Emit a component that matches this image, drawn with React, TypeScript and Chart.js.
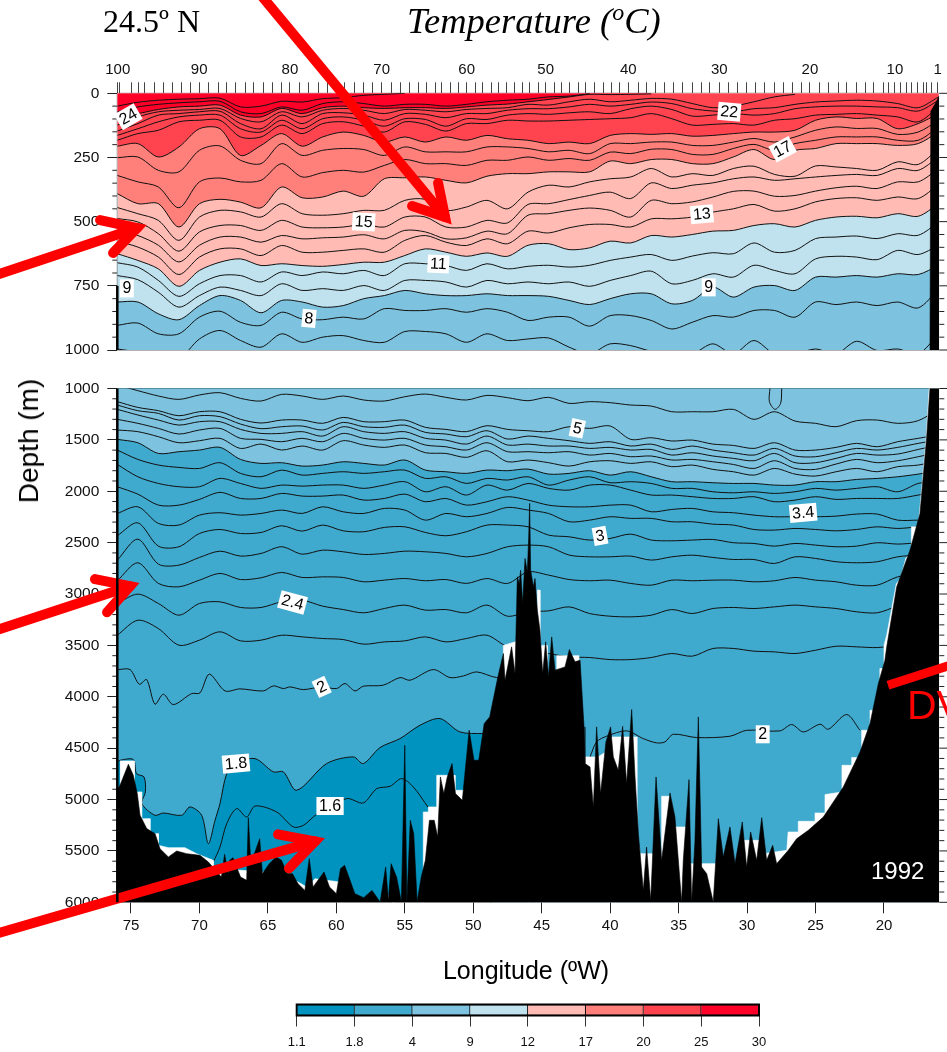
import React, { useEffect, useRef } from "react";
import { Chart, registerables } from "chart.js";

Chart.register(...registerables);

// Longitudes (degrees W) at which the isotherm depths were read
const LON_GRID = [76, 74.5, 73, 71.5, 70, 68.5, 67, 65.5, 64, 62.5, 61, 59.5, 58, 56.5, 55, 53.5, 52, 50.5, 49, 47.5, 46, 44.5, 43, 41.5, 40, 38.5, 37, 35.5, 34, 32.5, 31, 29.5, 28, 26.5, 25, 23.5, 22, 20.5, 19, 17.5, 16];

// Upper panel isotherms: depth in metres along LON_GRID
const T27 = [50, 35, 27, 23, 21, 19, 53, 50, 31, 34, 21, 17, 8, 4, 0];
const T26 = [72, 53, 43, 37, 33, 31, 72, 79, 53, 66, 40, 33, 40, 50, 43, 43, 50, 43, 33, 27, 23, 14, 11, 1];
const T25 = [89, 79, 63, 53, 50, 46, 85, 92, 59, 79, 56, 50, 56, 59, 56, 56, 59, 53, 46, 42, 33, 24, 14, 4, 5, 4, 2];
const T24 = [124, 92, 72, 66, 63, 59, 98, 111, 72, 92, 66, 59, 66, 79, 63, 66, 72, 63, 59, 56, 43, 46, 33, 23, 33, 27, 20, 23, 40, 56, 50, 33, 14, 4];
const T23 = [147, 118, 85, 79, 72, 70, 118, 138, 85, 118, 79, 76, 85, 105, 79, 82, 95, 79, 79, 66, 60, 60, 53, 43, 50, 43, 34, 40, 60, 69, 72, 60, 56, 43, 34, 30, 27, 30, 40, 56, 14];
const T22 = [164, 138, 111, 92, 85, 85, 138, 151, 105, 138, 99, 92, 105, 128, 99, 102, 128, 99, 102, 85, 79, 82, 76, 72, 79, 60, 50, 63, 89, 85, 79, 85, 79, 60, 53, 50, 50, 53, 56, 69, 27];
const T21 = [183, 157, 144, 111, 105, 105, 170, 170, 124, 157, 118, 111, 128, 151, 111, 121, 147, 118, 118, 105, 108, 108, 105, 102, 99, 95, 79, 99, 124, 121, 118, 124, 105, 99, 85, 82, 79, 85, 92, 111, 53];
const T20 = [206, 196, 248, 209, 138, 138, 242, 203, 157, 206, 170, 151, 164, 190, 170, 190, 170, 183, 164, 177, 183, 196, 190, 196, 164, 157, 160, 157, 167, 164, 157, 151, 151, 144, 105, 92, 98, 98, 138, 118, 79];
const T19 = [251, 248, 300, 306, 222, 205, 261, 274, 196, 242, 222, 215, 219, 242, 209, 228, 228, 228, 209, 209, 215, 228, 222, 235, 196, 196, 190, 190, 203, 203, 190, 176, 190, 170, 144, 131, 137, 137, 160, 151, 105];
const T18 = [320, 345, 365, 446, 345, 330, 345, 339, 274, 326, 309, 300, 307, 281, 258, 274, 274, 281, 261, 261, 248, 261, 254, 261, 229, 235, 218, 219, 238, 238, 215, 199, 222, 196, 183, 170, 170, 170, 183, 183, 131];
const T17 = [391, 430, 430, 521, 430, 413, 424, 446, 365, 407, 404, 381, 401, 333, 329, 326, 339, 349, 323, 313, 313, 306, 306, 306, 264, 274, 258, 258, 274, 274, 248, 219, 258, 222, 215, 196, 196, 196, 203, 196, 150];
const T16 = [445, 469, 495, 573, 482, 456, 462, 482, 430, 469, 475, 469, 456, 456, 417, 413, 456, 443, 417, 450, 385, 358, 365, 345, 333, 326, 293, 326, 313, 320, 293, 284, 316, 323, 283, 287, 293, 300, 267, 277, 215];
const T15 = [488, 501, 547, 615, 540, 515, 515, 534, 495, 521, 524, 521, 511, 521, 482, 482, 521, 521, 495, 505, 433, 430, 414, 398, 385, 410, 349, 371, 358, 349, 333, 326, 339, 333, 326, 320, 316, 320, 293, 300, 248];
const T14 = [534, 554, 592, 657, 592, 560, 560, 580, 554, 567, 563, 560, 551, 567, 534, 540, 567, 563, 537, 547, 475, 469, 456, 447, 456, 482, 417, 430, 423, 404, 382, 381, 401, 398, 381, 368, 362, 371, 345, 345, 294];
const T13 = [576, 599, 638, 706, 638, 606, 606, 632, 593, 619, 619, 612, 606, 619, 573, 554, 580, 593, 567, 586, 537, 544, 524, 511, 511, 521, 489, 489, 482, 463, 450, 433, 459, 450, 423, 410, 407, 417, 404, 410, 355];
const T12 = [625, 651, 684, 752, 690, 658, 645, 671, 664, 671, 674, 667, 658, 658, 632, 606, 619, 635, 622, 635, 592, 586, 609, 602, 576, 583, 554, 560, 550, 537, 534, 515, 508, 521, 495, 482, 479, 485, 469, 479, 430];
const T11 = [660, 677, 729, 791, 742, 710, 710, 735, 696, 710, 696, 703, 690, 710, 664, 664, 671, 690, 664, 684, 674, 670, 677, 670, 651, 638, 628, 651, 634, 621, 625, 583, 619, 612, 566, 560, 556, 566, 547, 553, 502];
const T10 = [710, 726, 775, 833, 788, 755, 768, 788, 742, 768, 761, 768, 749, 768, 729, 729, 735, 755, 729, 742, 735, 742, 735, 752, 729, 710, 693, 742, 729, 703, 716, 670, 690, 703, 645, 635, 638, 648, 612, 628, 592];
const T9 = [813, 813, 859, 882, 827, 788, 807, 855, 807, 813, 833, 827, 800, 788, 768, 781, 788, 788, 781, 788, 788, 791, 807, 823, 800, 781, 781, 820, 807, 755, 794, 755, 749, 768, 716, 716, 710, 716, 703, 706, 670];
const T8 = [904, 895, 937, 937, 872, 849, 892, 904, 853, 879, 882, 872, 879, 839, 846, 846, 839, 853, 839, 853, 885, 872, 872, 907, 866, 866, 885, 918, 892, 866, 872, 846, 846, 872, 813, 823, 813, 827, 813, 836, 762];
const T7 = [996, 1009, 1035, 1035, 957, 924, 963, 989, 937, 970, 950, 944, 963, 970, 928, 928, 937, 970, 937, 963, 957, 953, 989, 1015, 976, 983, 1005, 1015, 1015, 976, 1015, 963, 1015, 1015, 996, 1015, 966, 1002, 996, 1015, 937];

// Lower panel isotherms: depth in metres along LON_GRID
const B6 = [966, 1021, 1073, 1106, 1063, 1041, 1096, 1122, 1057, 1073, 1106, 1073, 1112, 1122, 1080, 1054, 1086, 1112, 1067, 1089, 1119, 1086, 1145, 1128, 1138, 1161, 1171, 1226, 1226, 1226, 1203, 1300, 1226, 1317, 1339, 1372, 1313, 1307, 1339, 1313, 1200];
const B5 = [1128, 1184, 1216, 1265, 1226, 1226, 1300, 1336, 1307, 1307, 1339, 1281, 1323, 1323, 1307, 1378, 1398, 1420, 1362, 1398, 1411, 1420, 1372, 1388, 1365, 1495, 1479, 1511, 1502, 1541, 1554, 1583, 1528, 1599, 1599, 1573, 1534, 1567, 1518, 1485, 1450];
const B48 = [1161, 1216, 1242, 1307, 1265, 1274, 1346, 1391, 1372, 1365, 1404, 1330, 1372, 1378, 1356, 1427, 1443, 1469, 1411, 1492, 1463, 1485, 1508, 1534, 1518, 1560, 1541, 1593, 1560, 1599, 1625, 1648, 1583, 1657, 1664, 1625, 1583, 1599, 1573, 1534, 1500];
const B46 = [1203, 1258, 1307, 1356, 1323, 1323, 1398, 1437, 1437, 1420, 1463, 1372, 1420, 1437, 1420, 1485, 1502, 1541, 1463, 1550, 1541, 1560, 1560, 1583, 1573, 1599, 1593, 1648, 1625, 1657, 1680, 1703, 1632, 1722, 1722, 1680, 1632, 1648, 1638, 1593, 1550];
const B44 = [1300, 1339, 1388, 1443, 1404, 1388, 1485, 1495, 1518, 1485, 1518, 1437, 1485, 1502, 1485, 1550, 1567, 1599, 1528, 1615, 1615, 1625, 1615, 1648, 1632, 1664, 1657, 1696, 1690, 1713, 1739, 1778, 1703, 1778, 1787, 1735, 1690, 1722, 1703, 1664, 1620];
const B42 = [1404, 1420, 1469, 1528, 1508, 1485, 1583, 1541, 1599, 1560, 1599, 1508, 1550, 1573, 1550, 1625, 1632, 1670, 1606, 1713, 1696, 1722, 1755, 1713, 1703, 1729, 1713, 1761, 1745, 1787, 1810, 1843, 1778, 1833, 1852, 1810, 1778, 1810, 1761, 1745, 1700];
const B4 = [1495, 1528, 1632, 1615, 1599, 1573, 1690, 1729, 1722, 1755, 1745, 1713, 1729, 1745, 1696, 1794, 1810, 1826, 1794, 1800, 1784, 1833, 1826, 1800, 1843, 1810, 1859, 1907, 1907, 1917, 1924, 1924, 1940, 1940, 1907, 1907, 1885, 1875, 1859, 1833, 1800];
const B38 = [1599, 1690, 1745, 1768, 1778, 1722, 1826, 1859, 1794, 1843, 1826, 1810, 1826, 1810, 1794, 1875, 1859, 1924, 1875, 1891, 1859, 1940, 1891, 1859, 1917, 1907, 1924, 1972, 1972, 2005, 2015, 2005, 2021, 2005, 1972, 1989, 1972, 1956, 2005, 1924, 1900];
const B36 = [1739, 1859, 1924, 1956, 1956, 1875, 1924, 1972, 1940, 1950, 1940, 1940, 1972, 1940, 1907, 2005, 1956, 2037, 1940, 1989, 1924, 1972, 1989, 1940, 1940, 1989, 2037, 2037, 2053, 2070, 2070, 2053, 2102, 2086, 2053, 2079, 2070, 2070, 2070, 2037, 2000];
const B34 = [1956, 2028, 2135, 2135, 2079, 2011, 2070, 2070, 2021, 2047, 2047, 2037, 2086, 2070, 2028, 2102, 2070, 2135, 2102, 2053, 2086, 2135, 2151, 2151, 2135, 2135, 2200, 2177, 2167, 2200, 2209, 2232, 2248, 2248, 2248, 2242, 2222, 2222, 2281, 2281];
const B32 = [2216, 2151, 2313, 2329, 2232, 2209, 2232, 2216, 2183, 2216, 2151, 2200, 2216, 2167, 2183, 2281, 2216, 2248, 2216, 2157, 2183, 2216, 2297, 2281, 2248, 2264, 2264, 2297, 2297, 2320, 2329, 2372, 2378, 2362, 2372, 2385, 2372, 2346, 2362, 2346];
const B3 = [2433, 2307, 2534, 2540, 2411, 2372, 2411, 2401, 2336, 2388, 2329, 2385, 2394, 2352, 2346, 2401, 2433, 2394, 2329, 2329, 2346, 2427, 2443, 2475, 2459, 2417, 2475, 2482, 2475, 2469, 2501, 2508, 2534, 2508, 2524, 2540, 2534, 2501, 2514, 2501];
const B28 = [2670, 2466, 2709, 2719, 2644, 2583, 2631, 2605, 2540, 2612, 2573, 2589, 2615, 2605, 2583, 2589, 2605, 2638, 2605, 2540, 2524, 2540, 2621, 2638, 2638, 2631, 2670, 2638, 2622, 2644, 2664, 2664, 2703, 2638, 2654, 2686, 2696, 2686, 2638, 2620];
const B26 = [2871, 2696, 2897, 2930, 2865, 2800, 2859, 2842, 2790, 2839, 2833, 2839, 2881, 2865, 2849, 2871, 2859, 2897, 2849, 2897, 2784, 2816, 2859, 2871, 2865, 2897, 2914, 2865, 2871, 2865, 2865, 2881, 2871, 2839, 2865, 2881, 2914, 2914, 2833, 2800];
const B24 = [3092, 3001, 3092, 3206, 3092, 3076, 3131, 3131, 3076, 3060, 3118, 3151, 3183, 3141, 3108, 3157, 3151, 3183, 3108, 3216, 3173, 3164, 3125, 3190, 3216, 3222, 3206, 3151, 3190, 3141, 3131, 3141, 3125, 3108, 3125, 3141, 3173, 3183, 3120, 3100];
const B22 = [3401, 3255, 3336, 3498, 3449, 3368, 3456, 3449, 3401, 3417, 3433, 3443, 3488, 3466, 3456, 3417, 3466, 3433, 3401, 3514, 3547, 3579, 3612, 3618, 3638, 3638, 3618, 3579, 3605, 3530, 3530, 3556, 3563, 3579, 3547, 3508, 3514, 3521, 3500, 3500];

// Lower panel isotherms read at their own [longitude, depth] points
const B7_LOOP = [[28.33, 998], [28.37, 1128], [27.96, 1203], [27.55, 1145], [27.47, 998]];
const B2_WEST = [[75.93, 3735], [75.07, 3735], [74.39, 3878], [73.86, 3832], [73.25, 4072], [72.64, 3975], [71.91, 4076], [70.57, 3969], [69.96, 3962], [69.28, 3780], [68.13, 3943], [67.04, 3923], [65.33, 3943], [64.6, 3894], [63.87, 3920], [63.39, 3904], [62.41, 3930], [61.07, 3904], [59.98, 3920], [59.37, 3871], [58.64, 3943], [58.03, 3897], [56.57, 3887], [55.35, 3813], [54.62, 3839], [52.92, 3735], [51.7, 3813], [50.72, 3797], [49.75, 3758], [48.29, 3813], [47.3, 3790]];
const B2_EAST = [[41.47, 4585], [40.99, 4439], [40.26, 4384], [38.8, 4332], [37.58, 4407], [36.6, 4449], [36, 4439], [35.39, 4365], [33.68, 4397], [31.25, 4384], [30.03, 4326], [27.6, 4332], [26.74, 4270], [25.89, 4342], [24.67, 4267], [24.07, 4316], [22.73, 4173], [21.75, 4326]];
const B18 = [[76, 4640], [75.8, 4618], [74.83, 4611], [74.6, 4748], [74.05, 4780], [73.95, 4926], [74.2, 5040], [73.25, 5153], [72.64, 5131], [71.3, 5153], [70.69, 5072], [69.84, 5153], [69.35, 5429], [68.86, 5202], [68.5, 5040], [68.01, 4748], [67.4, 4650], [65.94, 4602], [64.6, 4731], [63.87, 4731], [62.9, 4910], [60.71, 4650], [58.76, 4585], [58.03, 4650], [56.81, 4494], [55.35, 4407], [53.89, 4277], [52.43, 4212], [50.97, 4342], [49.26, 4358], [48.05, 4358], [47.9, 6100], [16, 6100]];
const B16 = [[68.99, 5608], [68.5, 5462], [68.01, 5235], [67.28, 5088], [66.55, 5170], [65.94, 5063], [64.36, 5121], [63.14, 5267], [62.41, 5251], [61.44, 5144], [59.25, 4991], [58.03, 5033], [57.05, 4894], [56.08, 4871], [55.23, 4796], [54.38, 4877], [53.28, 5079]];

// Sea floor and the unsampled cells above it, as [longitude, depth]
const BATHY_UPPER = [[16.64, 1000], [16.58, 70], [16.3, 45], [15.96, 10]];
const BATHY_LOWER = [[76, 4900], [75.8, 4861], [75.19, 4657], [74.83, 4764], [74.54, 4942], [74.34, 5153], [73.85, 5283], [73.24, 5332], [72.88, 5478], [72.27, 5559], [71.66, 5501], [70.93, 5527], [69.96, 5543], [69.35, 5608], [68.99, 5663], [68.4, 5754], [68.16, 5533], [67.9, 5722], [67.79, 5592], [67.55, 5566], [67, 5754], [66.55, 5786], [66.43, 5176], [66.26, 5592], [65.94, 5510], [65.6, 5381], [65.4, 5722], [64.9, 5624], [64.4, 5559], [64, 5592], [63.6, 5722], [63.2, 5722], [62.8, 5819], [62.3, 5884], [61.98, 5575], [61.7, 5851], [60.9, 5705], [60.5, 5851], [60, 5916], [59.7, 5673], [59.4, 5640], [59, 5786], [58.65, 5916], [58, 5955], [57.4, 5884], [56.8, 5997], [56.4, 5657], [56.2, 5981], [56, 5624], [55.6, 5754], [55.25, 5997], [55, 4472], [54.85, 5997], [54.6, 5202], [54.35, 5332], [54.1, 5997], [53.8, 5754], [53.5, 5592], [53.2, 5202], [52.85, 5202], [52.6, 5364], [52.4, 4780], [52.15, 4942], [51.9, 4780], [51.55, 4650], [51.3, 4942], [50.8, 5007], [50.3, 4326], [49.95, 4618], [49.6, 4618], [49.2, 4261], [48.8, 4196], [48.2, 3806], [47.8, 3579], [47.68, 3839], [47.2, 3514], [46.95, 3774], [46.78, 2833], [46.64, 2897], [46.54, 2768], [46.39, 3092], [46.22, 2654], [46.05, 2784], [45.95, 2443], [45.88, 2118], [45.81, 2768], [45.61, 2930], [45.49, 2849], [45.32, 3157], [45.13, 3352], [44.93, 3774], [44.71, 3465], [44.5, 3806], [44.27, 3417], [44.03, 3741], [43.3, 3709], [42.98, 3540], [42.57, 3660], [42.2, 3644], [41.91, 4293], [41.84, 4650], [41.47, 4683], [41.23, 5072], [40.99, 4293], [40.7, 4942], [40.31, 4439], [39.97, 4293], [39.77, 4585], [39.41, 4715], [39.09, 4287], [38.8, 4845], [38.43, 4124], [38.19, 4764], [37.94, 5332], [37.58, 5884], [37.34, 5462], [37.04, 5981], [36.65, 4780], [36.24, 5592], [35.63, 4936], [35.27, 5170], [34.78, 5997], [34.66, 5592], [34.24, 4806], [34.05, 5997], [33.81, 5413], [33.56, 4196], [33.32, 5657], [32.95, 5721], [32.47, 5997], [32.1, 5186], [31.74, 5559], [31.25, 5267], [30.88, 5624], [30.35, 5218], [30.03, 5657], [29.74, 5316], [29.3, 5592], [28.93, 5176], [28.57, 5592], [28.13, 5446], [27.84, 5624], [26.99, 5494], [26.38, 5381], [25.53, 5300], [24.43, 5170], [22.97, 4877], [21.75, 4537], [21.02, 4261], [20.41, 3871], [19.93, 3644], [19.8, 3514], [19.07, 2930], [18.1, 2573], [17.37, 2216], [16.88, 1469], [16.64, 998], [15.96, 998]];
const NODATA_CELLS = [[75.8, 4624], [74.76, 4624], [74.76, 4926], [74.22, 4926], [74.22, 5186], [73.61, 5186], [73.61, 5332], [73, 5332], [73, 5446], [72.27, 5468], [71.06, 5468], [70.2, 5527], [68.99, 5592], [68.99, 5673], [66.9, 5689], [65.33, 5705], [63.63, 5747], [62.78, 5803], [62.17, 5851], [61.56, 5770], [59.73, 5803], [59.73, 5916], [59.5, 6100], [56.57, 6100], [56.2, 5932], [55.84, 5932], [55.84, 6100], [53.65, 6100], [53.65, 5121], [53.28, 5121], [53.28, 5072], [52.67, 5072], [52.67, 4764], [51.33, 4764], [51.33, 4910], [49.51, 4910], [49.51, 4618], [49.2, 4300], [47.8, 4000], [47.8, 3500], [45.32, 3400], [45.32, 2962], [45.13, 2962], [45.13, 3500], [44.6, 3500], [44.6, 3800], [43.9, 3800], [43.9, 3600], [42.3, 3600], [42.3, 4585], [40.9, 4585], [40.1, 4520], [40.1, 4391], [38.05, 4391], [38.05, 5332], [37.82, 5527], [36.24, 5527], [36.24, 4968], [35.63, 4968], [35.27, 5267], [34.3, 5267], [34.3, 5624], [30.76, 5624], [30.27, 5397], [28.93, 5397], [28.8, 5527], [27.1, 5494], [27, 5316], [26.26, 5316], [26.26, 5212], [25.04, 5212], [25.04, 5131], [24.31, 5131], [24.31, 4952], [23.07, 4926], [23.07, 4667], [22.36, 4667], [22.36, 4592], [21.63, 4592], [21.63, 4326], [21.02, 4326], [21.02, 4131], [20.3, 4131], [20.3, 3725], [20, 3725], [20, 3500], [19.8, 3400], [19.1, 2900], [18.8, 2850], [18.4, 2650], [18, 2600], [18, 2346], [17.5, 2346], [17.4, 2200], [16.9, 1450], [16.7, 1000], [15.96, 1000]];

// Axis ticks
const TOP_TICKS = [75.97, 75.85, 74.95, 74.47, 73.98, 73.25, 72.65, 71.96, 71.3, 70.62, 70.02, 69.35, 68.62, 68.01, 67.35, 66.67, 66.07, 65.34, 64.65, 63.99, 63.39, 62.66, 62.05, 61.32, 60.63, 59.97, 59.37, 58.69, 58.03, 57.34, 56.69, 55.96, 55.35, 54.67, 54.01, 53.4, 52.79, 52.3, 51.65, 51.09, 50.48, 49.87, 49.31, 48.65, 48.17, 47.55, 47.02, 46.4, 45.86, 45.25, 44.71, 44.03, 43.55, 42.94, 42.33, 41.77, 41.11, 40.5, 39.9, 39.29, 38.68, 37.95, 37.34, 36.68, 36.05, 35.34, 34.71, 34, 33.32, 32.71, 32.03, 31.37, 30.71, 30.03, 29.35, 28.74, 28.01, 27.35, 26.7, 26.06, 25.41, 24.68, 24.02, 23.34, 22.73, 22, 21.34, 20.73, 20.05, 19.68, 19.2, 18.83, 18.35, 17.98, 17.57, 17.13, 16.93, 16.52, 16.08];
const TOP_LABELLED: [number, string][] = [[75.97, "100"], [70.02, "90"], [63.39, "80"], [56.69, "70"], [50.48, "60"], [44.71, "50"], [38.68, "40"], [32.03, "30"], [25.41, "20"], [19.2, "10"], [16.08, "1"]];
const BOTTOM_TICKS = [75, 70, 65, 60, 55, 50, 45, 40, 35, 30, 25, 20];
const UPPER_DEPTH_TICKS = [0, 250, 500, 750, 1000];
const LOWER_DEPTH_TICKS = [1000, 1500, 2000, 2500, 3000, 3500, 4000, 4500, 5000, 5500, 6000];
const UPPER_MINOR = [50, 100, 150, 200, 300, 350, 400, 450, 550, 600, 650, 700, 800, 850, 900, 950];
const LOWER_MINOR = [1100, 1200, 1300, 1400, 1600, 1700, 1800, 1900, 2100, 2200, 2300, 2400, 2600, 2700, 2800, 2900, 3100, 3200, 3300, 3400, 3600, 3700, 3800, 3900, 4100, 4200, 4300, 4400, 4600, 4700, 4800, 4900, 5100, 5200, 5300, 5400, 5600, 5700, 5800, 5900];

// Contour labels: text, longitude, depth, angle
const UPPER_LABELS: [string, number, number, number][] = [["24", 75.2, 91, -30], ["22", 31.3, 72, 5], ["17", 27.4, 218, -28], ["15", 58, 501, 3], ["13", 33.3, 471, -5], ["11", 52.55, 665, 3], ["9", 75.3, 760, 0], ["9", 32.8, 756, 0], ["8", 62, 877, 5]];
const LOWER_LABELS: [string, number, number, number][] = [["5", 42.4, 1388, 12], ["3.4", 25.9, 2210, -5], ["3", 40.74, 2434, -10], ["2.4", 63.2, 3082, 15], ["2", 61.07, 3904, -25], ["2", 28.86, 4365, 0], ["1.8", 67.33, 4650, -5], ["1.6", 60.46, 5063, 0]];

// Red annotation arrows: [longitude, depth] in the panel named by the list
const UPPER_ARROW_SHAFTS = [[[67.04, -481], [52.06, 482]], [[85.3, 716], [74.56, 525]]];
const UPPER_ARROW_HEADS = [[[54.47, 439], [52.06, 482], [52.57, 349]], [[77.26, 494], [74.56, 525], [76.31, 622]]];
const LOWER_ARROW_SHAFTS = [[[85.3, 3372], [75.07, 2924]], [[85.3, 6323], [61.56, 5407]]];
const LOWER_ARROW_HEADS = [[[77.63, 2855], [75.07, 2924], [76.75, 3177]], [[64.26, 5339], [61.56, 5407], [63.46, 5670]]];
const LOWER_RED_BAR = [[19.71, 3888], [15.18, 3693]];

// Colour bar
const BAND_COLORS = ["#0093bf", "#40a9ce", "#7dc3df", "#bfe2ee", "#ffbbb4", "#ff807a", "#ff4450", "#ff0028"];
const BAND_LABELS = ["1.1", "1.8", "4", "9", "12", "17", "20", "25", "30"];
const BAND_WIDTHS = [1, 1, 1, 1, 1, 1, 1, 1];

const UPPER_LINES: [number[], string | null][] = [[T27, null], [T26, null], [T25, BAND_COLORS[7]], [T24, null], [T23, null], [T22, null], [T21, null], [T20, BAND_COLORS[6]], [T19, null], [T18, null], [T17, BAND_COLORS[5]], [T16, null], [T15, null], [T14, null], [T13, null], [T12, BAND_COLORS[4]], [T11, null], [T10, null], [T9, BAND_COLORS[3]], [T8, null], [T7, null]];
const LOWER_LINES: [number[], string | null][] = [[B6, null], [B5, null], [B48, null], [B46, null], [B44, null], [B42, null], [B4, BAND_COLORS[2]], [B38, null], [B36, null], [B34, null], [B32, null], [B3, null], [B28, null], [B26, null], [B24, null], [B22, null]];

const SANS = "'Liberation Sans', Arial, sans-serif";
const SERIF = "'Liberation Serif', 'Times New Roman', serif";

const onGrid = (v: number[]) => v.map((y, i) => ({ x: LON_GRID[i], y }));
const onPairs = (p: number[][]) => p.map(([x, y]) => ({ x, y }));

const base = { type: "line", pointRadius: 0, pointHoverRadius: 0, xAxisID: "x", spanGaps: false };
const contour = (data: any[], yAxisID: string, fillColor: string | null, visible = true) => ({
  ...base, data, yAxisID, tension: 0.3,
  borderColor: visible ? "#111" : "rgba(0,0,0,0)", borderWidth: 1,
  fill: fillColor ? "end" : false, backgroundColor: fillColor ?? "transparent",
});
const solid = (data: any[], yAxisID: string, color: string) => ({
  ...base, data, yAxisID, tension: 0, borderColor: color, borderWidth: 0.6,
  fill: "start", backgroundColor: color,
});
const arrow = (data: any[], yAxisID: string, join: string, cap: string, width = 10) => ({
  ...base, data, yAxisID, tension: 0, borderColor: "#ff0000", borderWidth: width,
  borderCapStyle: cap, borderJoinStyle: join, fill: false, clip: false,
});

const fixedTicks = (values: number[]) => (s: any) => { s.ticks = values.map((value) => ({ value })); };

const panelFurniture = {
  id: "panelFurniture",
  beforeDatasetsDraw(chart: any) {
    const { ctx, scales } = chart;
    const { yTop, yBottom, x } = scales;
    const L = x.left, R = x.right;
    ctx.save();
    ctx.strokeStyle = "#222";
    ctx.lineWidth = 1;
    const seg = (x0: number, y0: number, x1: number, y1: number) => {
      ctx.beginPath(); ctx.moveTo(x0, y0); ctx.lineTo(x1, y1); ctx.stroke();
    };
    for (const [s, minor, major] of [[yTop, UPPER_MINOR, UPPER_DEPTH_TICKS], [yBottom, LOWER_MINOR, LOWER_DEPTH_TICKS]] as any) {
      for (const v of minor) {
        const p = s.getPixelForValue(v);
        seg(L - 5, p, L, p);
        seg(R, p, R + 5, p);
      }
      for (const v of major) {
        const p = s.getPixelForValue(v);
        seg(R, p, R + 8, p);
      }
    }
    ctx.strokeStyle = "#666";
    seg(L, yTop.top, R, yTop.top);
    seg(L, yTop.bottom, R, yTop.bottom);
    seg(L, yBottom.top, R, yBottom.top);
    seg(L, yBottom.bottom, R, yBottom.bottom);
    seg(L, yTop.top, L, yTop.bottom);
    ctx.restore();
  },
  afterDatasetsDraw(chart: any) {
    const { ctx, scales } = chart;
    const { yTop, yBottom, x } = scales;
    ctx.save();
    ctx.strokeStyle = "#000";
    ctx.lineWidth = 2.5;
    ctx.beginPath();
    ctx.moveTo(x.left, yTop.getPixelForValue(750));
    ctx.lineTo(x.left, yTop.bottom);
    ctx.moveTo(x.left, yBottom.top);
    ctx.lineTo(x.left, yBottom.bottom);
    ctx.stroke();
    ctx.font = `16px ${SANS}`;
    ctx.textAlign = "center";
    ctx.textBaseline = "middle";
    for (const [list, s] of [[UPPER_LABELS, yTop], [LOWER_LABELS, yBottom]] as any) {
      for (const [text, lon, depth, angle] of list) {
        ctx.save();
        ctx.translate(x.getPixelForValue(lon), s.getPixelForValue(depth));
        ctx.rotate((angle * Math.PI) / 180);
        const w = ctx.measureText(text).width + 5;
        ctx.fillStyle = "#fff";
        ctx.fillRect(-w / 2, -9, w, 18);
        ctx.fillStyle = "#000";
        ctx.fillText(text, 0, 0.5);
        ctx.restore();
      }
    }
    ctx.restore();
  },
};

const colorbarFrame = {
  id: "colorbarFrame",
  afterDatasetsDraw(chart: any) {
    const { ctx, chartArea: a } = chart;
    ctx.save();
    ctx.strokeStyle = "#000";
    ctx.lineWidth = 2;
    ctx.strokeRect(a.left, a.top, a.right - a.left, a.bottom - a.top);
    ctx.restore();
  },
};

const text = (style: React.CSSProperties): React.CSSProperties => ({
  position: "absolute", whiteSpace: "nowrap", lineHeight: 1, ...style,
});

export default function App() {
  const mainRef = useRef<HTMLCanvasElement>(null);
  const barRef = useRef<HTMLCanvasElement>(null);

  useEffect(() => {
    Chart.defaults.font.family = SANS;
    Chart.defaults.color = "#111";
    const datasets: any[] = [
      ...UPPER_ARROW_HEADS.map((a) => arrow(onPairs(a), "yTop", "miter", "round")),
      ...UPPER_ARROW_SHAFTS.map((a) => arrow(onPairs(a), "yTop", "miter", "round")),
      ...LOWER_ARROW_HEADS.map((a) => arrow(onPairs(a), "yBottom", "miter", "round")),
      ...LOWER_ARROW_SHAFTS.map((a) => arrow(onPairs(a), "yBottom", "miter", "round")),
      arrow(onPairs(LOWER_RED_BAR), "yBottom", "miter", "butt", 9),
      solid(onPairs(BATHY_UPPER), "yTop", "#000"),
      solid(onPairs(BATHY_LOWER), "yBottom", "#000"),
      solid(onPairs(NODATA_CELLS), "yBottom", "#fff"),
      ...UPPER_LINES.map(([v, c]) => contour(onGrid(v), "yTop", c)),
      contour(onPairs([[76, 1000], [15.96, 1000]]), "yTop", BAND_COLORS[2], false),
      contour(onPairs(B7_LOOP), "yBottom", null),
      ...LOWER_LINES.map(([v, c]) => contour(onGrid(v), "yBottom", c)),
      contour(onPairs(B2_WEST), "yBottom", null),
      contour(onPairs(B2_EAST), "yBottom", null),
      contour(onPairs(B16), "yBottom", null),
      contour(onPairs(B18), "yBottom", BAND_COLORS[1]),
      contour(onPairs([[76, 6000], [15.96, 6000]]), "yBottom", BAND_COLORS[0], false),
    ];

    const labelOf = (v: number) => {
      const hit = TOP_LABELLED.find(([lon]) => lon === v);
      return hit ? hit[1] : "";
    };

    const main = new Chart(mainRef.current!, {
      type: "line",
      data: { datasets },
      plugins: [panelFurniture],
      options: {
        responsive: false,
        animation: false,
        events: [],
        layout: { padding: { left: 0, right: 7.7, top: 0, bottom: 0 } },
        plugins: { legend: { display: false }, tooltip: { enabled: false }, title: { display: false } },
        scales: {
          xTop: {
            type: "linear", position: "top", reverse: true, min: 15.96, max: 76,
            afterBuildTicks: fixedTicks(TOP_TICKS),
            afterFit: (s: any) => { s.height = 93.3; },
            ticks: { autoSkip: false, maxRotation: 0, padding: 3, font: { size: 15 }, callback: (v: any) => labelOf(v) },
            grid: { drawOnChartArea: false, tickLength: 11, tickColor: "#444" },
            border: { display: false },
          },
          x: {
            type: "linear", position: "bottom", reverse: true, min: 15.96, max: 76,
            afterBuildTicks: fixedTicks(BOTTOM_TICKS),
            afterFit: (s: any) => { s.height = 960 - 902.3; },
            ticks: { autoSkip: false, maxRotation: 0, padding: 4, font: { size: 15 }, callback: (v: any) => String(v) },
            grid: { drawOnChartArea: false, tickLength: 11, tickColor: "#222" },
            border: { display: false },
          },
          yBottom: {
            type: "linear", position: "left", reverse: true, min: 1000, max: 6000,
            stack: "depth", stackWeight: 513.8,
            afterBuildTicks: fixedTicks(LOWER_DEPTH_TICKS),
            afterFit: (s: any) => { s.width = 117.3; },
            ticks: { autoSkip: false, padding: 8, font: { size: 15.5 }, callback: (v: any) => String(v) },
            grid: { drawOnChartArea: false, tickLength: 10, tickColor: "#222" },
            border: { display: false },
          },
          yGap: {
            type: "linear", position: "left", display: false, min: 0, max: 1,
            stack: "depth", stackWeight: 38.5,
          },
          yTop: {
            type: "linear", position: "left", reverse: true, min: 0, max: 1000,
            stack: "depth", stackWeight: 256.7,
            afterBuildTicks: fixedTicks(UPPER_DEPTH_TICKS),
            afterFit: (s: any) => { s.width = 117.3; },
            ticks: { autoSkip: false, padding: 8, font: { size: 15.5 }, callback: (v: any) => String(v) },
            grid: { drawOnChartArea: false, tickLength: 10, tickColor: "#222" },
            border: { display: false },
          },
        },
      } as any,
    });

    const bar = new Chart(barRef.current!, {
      type: "bar",
      data: {
        labels: ["band"],
        datasets: BAND_COLORS.map((c, i) => ({
          data: [BAND_WIDTHS[i]], backgroundColor: c, borderColor: "#000", borderWidth: 1,
          barPercentage: 1, categoryPercentage: 1,
        })),
      },
      plugins: [colorbarFrame],
      options: {
        indexAxis: "y",
        responsive: false,
        animation: false,
        events: [],
        layout: { padding: { left: 296.7, right: 188, top: 9.5, bottom: 0 } },
        plugins: { legend: { display: false }, tooltip: { enabled: false } },
        scales: {
          x: {
            type: "linear", stacked: true, min: 0, max: 8,
            afterBuildTicks: fixedTicks(BAND_LABELS.map((_, i) => i)),
            afterFit: (s: any) => { s.height = 36.5; },
            ticks: { autoSkip: false, maxRotation: 0, padding: 8, font: { size: 13 }, callback: (v: any) => BAND_LABELS[v] },
            grid: { drawOnChartArea: false, tickLength: 11, tickColor: "#333" },
            border: { display: false },
          },
          y: { stacked: true, display: false },
        },
      } as any,
    });

    return () => { main.destroy(); bar.destroy(); };
  }, []);

  return (
    <div style={{ position: "absolute", left: 0, top: 0, width: 947, height: 1052, overflow: "hidden", background: "#fff" }}>
      <canvas ref={mainRef} width={947} height={960} style={{ position: "absolute", left: 0, top: 0 }} />
      <canvas ref={barRef} width={947} height={57} style={{ position: "absolute", left: 0, top: 995 }} />
      <div style={text({ left: 103, top: 5, fontFamily: SERIF, fontSize: 32, color: "#000" })}>24.5º N</div>
      <div style={text({ left: 407, top: 3, fontFamily: SERIF, fontSize: 36.5, fontStyle: "italic", color: "#000" })}>
        Temperature (<sup style={{ fontSize: 24, lineHeight: 0 }}>o</sup>C)
      </div>
      <div style={text({ left: 29, top: 441, fontFamily: SANS, fontSize: 28, color: "#000", transform: "translate(-50%,-50%) rotate(-90deg)" })}>Depth (m)</div>
      <div style={text({ left: 526, top: 970, fontFamily: SANS, fontSize: 25, color: "#000", transform: "translate(-50%,-50%)" })}>Longitude (ºW)</div>
      <div style={text({ left: 871, top: 859, fontFamily: SANS, fontSize: 24, color: "#fff" })}>1992</div>
      <div style={text({ left: 907, top: 685, fontFamily: SANS, fontSize: 41, color: "#ff0000" })}>DV</div>
    </div>
  );
}
